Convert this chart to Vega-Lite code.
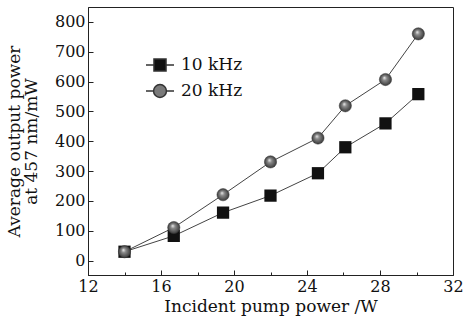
{
  "$schema": "https://vega.github.io/schema/vega-lite/v6.json",
  "width": 365,
  "height": 268,
  "autosize": {"type": "none"},
  "padding": {"left": 88, "top": 7, "right": 12, "bottom": 49},
  "background": "white",
  "config": {
    "view": {"stroke": "#222", "strokeWidth": 1},
    "font": "DejaVu Serif",
    "axis": {
      "grid": false,
      "domainColor": "#222",
      "tickColor": "#222",
      "labelColor": "#111",
      "titleColor": "#111",
      "labelFont": "DejaVu Serif",
      "titleFont": "DejaVu Serif",
      "labelFontSize": 16,
      "titleFontSize": 17,
      "titleFontWeight": "normal"
    },
    "legend": {
      "labelFont": "DejaVu Serif",
      "labelFontSize": 17,
      "labelColor": "#111"
    }
  },
  "data": {
    "values": [
      {"power": 14.0, "output": 30, "series": "10 kHz"},
      {"power": 16.7, "output": 83, "series": "10 kHz"},
      {"power": 19.4, "output": 161, "series": "10 kHz"},
      {"power": 22.0, "output": 218, "series": "10 kHz"},
      {"power": 24.6, "output": 293, "series": "10 kHz"},
      {"power": 26.1, "output": 380, "series": "10 kHz"},
      {"power": 28.3, "output": 460, "series": "10 kHz"},
      {"power": 30.1, "output": 558, "series": "10 kHz"},
      {"power": 14.0, "output": 30, "series": "20 kHz"},
      {"power": 16.7, "output": 111, "series": "20 kHz"},
      {"power": 19.4, "output": 221, "series": "20 kHz"},
      {"power": 22.0, "output": 331, "series": "20 kHz"},
      {"power": 24.6, "output": 411, "series": "20 kHz"},
      {"power": 26.1, "output": 519, "series": "20 kHz"},
      {"power": 28.3, "output": 607, "series": "20 kHz"},
      {"power": 30.1, "output": 760, "series": "20 kHz"}
    ]
  },
  "encoding": {
    "x": {
      "field": "power",
      "type": "quantitative",
      "scale": {"domain": [12, 32], "nice": false, "zero": false},
      "axis": {
        "title": "Incident pump power /W",
        "values": [12, 14, 16, 18, 20, 22, 24, 26, 28, 30, 32],
        "labelExpr": "datum.value % 4 == 0 ? datum.label : ''",
        "tickSize": {"condition": {"test": "datum.value % 4 == 0", "value": -5}, "value": -3},
        "labelPadding": 8,
        "titlePadding": 2,
        "labelFlush": false,
        "labelOverlap": false
      }
    },
    "y": {
      "field": "output",
      "type": "quantitative",
      "scale": {"domain": [-48, 850], "nice": false, "zero": false},
      "axis": {
        "title": ["Average output power", "at 457 nm/mW"],
        "values": [0, 100, 200, 300, 400, 500, 600, 700, 800],
        "tickSize": -5,
        "labelPadding": 8,
        "titlePadding": 14,
        "titleLineHeight": 17,
        "labelFlush": false,
        "labelOverlap": false
      }
    }
  },
  "layer": [
    {
      "mark": {"type": "line", "color": "#444", "strokeWidth": 1},
      "encoding": {"detail": {"field": "series"}}
    },
    {
      "mark": {"type": "point", "filled": true, "stroke": "#333", "strokeWidth": 1, "opacity": 0, "size": 10},
      "encoding": {
        "color": {
          "field": "series",
          "type": "nominal",
          "scale": {"domain": ["10 kHz", "20 kHz"], "range": ["#111111", "#7a7a7a"]},
          "legend": {
            "title": null,
            "orient": "none",
            "legendX": 57,
            "legendY": 43,
            "symbolSize": 784,
            "symbolOpacity": 1,
            "rowPadding": 1,
            "labelOffset": 6
          }
        },
        "shape": {
          "field": "series",
          "type": "nominal",
          "scale": {
            "domain": ["10 kHz", "20 kHz"],
            "range": [
              "M-1,0H-0.43M0.43,0H1M-0.43,-0.43H0.43V0.43H-0.43Z",
              "M-1,0H-0.46M0.46,0H1M-0.46,0A0.46,0.46 0 1,1 0.46,0A0.46,0.46 0 1,1 -0.46,0Z"
            ]
          },
          "legend": {
            "title": null,
            "orient": "none",
            "legendX": 57,
            "legendY": 43,
            "symbolSize": 784,
            "symbolOpacity": 1,
            "rowPadding": 1,
            "labelOffset": 6
          }
        }
      }
    },
    {
      "transform": [{"filter": "datum.series == '10 kHz'"}],
      "mark": {"type": "point", "shape": "square", "filled": true, "color": "#111", "opacity": 1, "size": 150},
      "encoding": {}
    },
    {
      "transform": [{"filter": "datum.series == '20 kHz'"}],
      "mark": {
        "type": "point",
        "shape": "circle",
        "filled": true,
        "opacity": 1,
        "size": 150,
        "strokeWidth": 0.5,
        "stroke": "#333",
        "fill": {
          "gradient": "radial",
          "x1": 0.4, "y1": 0.35, "r1": 0,
          "x2": 0.5, "y2": 0.5, "r2": 0.5,
          "stops": [
            {"offset": 0, "color": "#f2f2f2"},
            {"offset": 0.35, "color": "#8a8a8a"},
            {"offset": 1, "color": "#3a3a3a"}
          ]
        }
      },
      "encoding": {}
    }
  ]
}
